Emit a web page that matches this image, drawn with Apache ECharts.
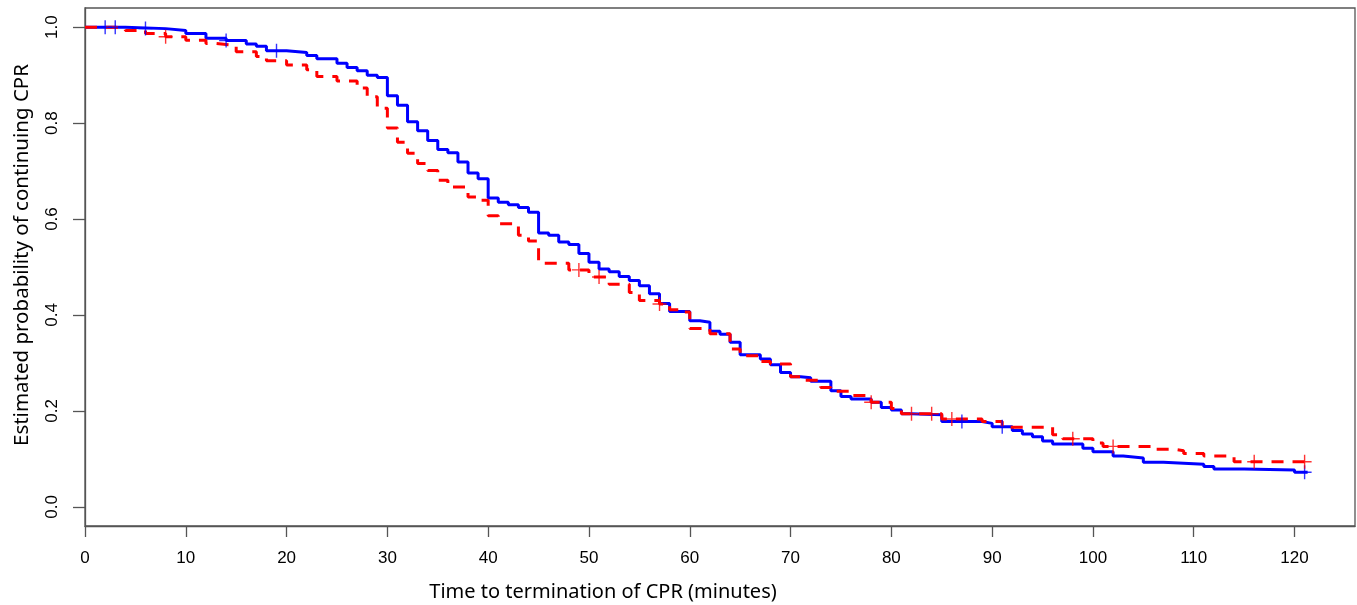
<!DOCTYPE html>
<html>
<head>
<meta charset="utf-8">
<script src="https://cdn.jsdelivr.net/npm/echarts@6/dist/echarts.min.js"></script>
<style>
html,body{margin:0;padding:0;background:#fff;}
#chart{width:1357px;height:605px;}
</style>
</head>
<body>
<div id="chart"></div>
<script>
// Blue group (solid) step curve: time (min), survival
const blueTimes = [0,4,8,10,12,14,16,17,18,20,22,23,25,26,27,28,29,30,31,32,33,34,35,36,37,38,39,40,41,42,43,44,45,46,47,48,49,50,51,52,53,54,55,56,57,58,60,61,62,63,64,65,67,68,69,70,71,72,74,75,76,78,79,80,81,82,85,89,90,92,93,94,95,96,99,100,102,103,105,107,111,112,115,120,121.3];
const blueSurv  = [1.0,0.997,0.993,0.987,0.977,0.972,0.965,0.960,0.951,0.947,0.941,0.934,0.925,0.916,0.909,0.900,0.895,0.857,0.837,0.803,0.784,0.764,0.745,0.738,0.719,0.696,0.684,0.644,0.635,0.630,0.624,0.614,0.571,0.566,0.552,0.547,0.528,0.510,0.496,0.490,0.480,0.472,0.461,0.444,0.424,0.407,0.388,0.385,0.366,0.360,0.343,0.317,0.308,0.296,0.280,0.271,0.269,0.262,0.242,0.230,0.225,0.218,0.207,0.202,0.194,0.192,0.178,0.174,0.167,0.159,0.152,0.146,0.137,0.131,0.122,0.115,0.106,0.102,0.093,0.089,0.084,0.079,0.077,0.072,0.072];
const blueCensor = [2,3,6,14,19,87,91,121];

// Red group (dashed) step curve
const redTimes = [0,3,4,6,8,10,12,13,15,17,18,20,22,23,25,27,28,29,30,31,32,33,34,35,36,38,39,40,41,43,44,45,48,50,52,54,55,57,58,59,60,62,64,65,67,68,70,71,73,74,76,78,80,81,85,89,91,96,97,100,101,106,108,109,111,114,121];
const redSurv  = [1.0,0.998,0.993,0.987,0.980,0.973,0.966,0.962,0.949,0.939,0.930,0.921,0.911,0.897,0.888,0.873,0.855,0.831,0.790,0.760,0.737,0.716,0.701,0.681,0.667,0.646,0.639,0.607,0.590,0.566,0.554,0.508,0.494,0.479,0.464,0.447,0.430,0.423,0.411,0.406,0.372,0.361,0.329,0.315,0.303,0.298,0.271,0.264,0.249,0.241,0.232,0.218,0.205,0.194,0.183,0.178,0.166,0.150,0.142,0.133,0.126,0.120,0.117,0.111,0.106,0.094,0.094];
const redCensor = [8,49,51,57,78,82,84,86,98,102,116,121];

const xTicks = [0,10,20,30,40,50,60,70,80,90,100,110,120];
const yTicks = [0,0.2,0.4,0.6,0.8,1.0];
const xTitle = 'Time to termination of CPR (minutes)';
const yTitle = 'Estimated probability of continuing CPR';

function pairs(t, s){ return t.map((v,i)=>[v,s[i]]); }
function survAt(t, times, surv){
  let v = surv[0];
  for (let i=0;i<times.length;i++){ if (times[i] <= t) v = surv[i]; }
  return v;
}
const plusPath = 'path://M9,0H11V9H20V11H11V20H9V11H0V9H9Z';

const chart = echarts.init(document.getElementById('chart'), null, {renderer:'canvas'});
chart.setOption({
  animation:false,
  backgroundColor:'#ffffff',
  grid:{left:85,right:2,top:8,bottom:79,show:true,borderColor:'#555',borderWidth:1.3,backgroundColor:'transparent'},
  graphic:[
    {type:'text',x:603,y:592,style:{text:xTitle,fontFamily:'Noto Sans',fontSize:20,fill:'#000',align:'center',verticalAlign:'middle'}},
    {type:'text',x:22,y:255,rotation:Math.PI/2,style:{text:yTitle,fontFamily:'Noto Sans',fontSize:20.5,fill:'#000',align:'center',verticalAlign:'middle'}}
  ],
  xAxis:{
    type:'value',min:0,max:126,
    axisLine:{show:true,onZero:false,lineStyle:{color:'#555',width:1.3}},
    axisTick:{show:true,length:11,lineStyle:{color:'#555',width:1.3},customValues:xTicks},
    axisLabel:{fontFamily:'Liberation Sans',fontSize:17,color:'#000',margin:24,customValues:xTicks},
    splitLine:{show:false}
  },
  yAxis:{
    type:'value',min:-0.04,max:1.04,
    axisLine:{show:true,onZero:false,lineStyle:{color:'#555',width:1.3}},
    axisTick:{show:true,length:12,lineStyle:{color:'#555',width:1.3},customValues:yTicks},
    axisLabel:{fontFamily:'Liberation Sans',fontSize:17,color:'#000',margin:24,rotate:90,
      customValues:yTicks,formatter:v=>v.toFixed(1)},
    splitLine:{show:false}
  },
  series:[
    {type:'line',name:'blue',step:'end',data:pairs(blueTimes,blueSurv),showSymbol:false,
     lineStyle:{color:'#0000FF',width:3},z:2},
    {type:'line',name:'red',step:'end',data:pairs(redTimes,redSurv),showSymbol:false,
     lineStyle:{color:'#FF0000',width:3,type:[12,9]},z:3},
    {type:'scatter',data:blueCensor.map(t=>[t,survAt(t,blueTimes,blueSurv)]),symbol:plusPath,symbolSize:14,
     itemStyle:{color:'#0000FF'},z:4},
    {type:'scatter',data:redCensor.map(t=>[t,survAt(t,redTimes,redSurv)]),symbol:plusPath,symbolSize:14,
     itemStyle:{color:'#FF0000'},z:5}
  ]
});
</script>
</body>
</html>
